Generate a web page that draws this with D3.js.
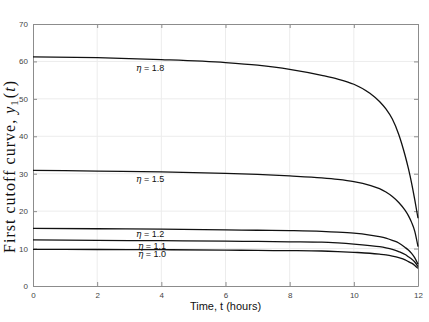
<!DOCTYPE html>
<html><head><meta charset="utf-8">
<script src="https://cdn.jsdelivr.net/npm/d3@7"></script>
<style>
html,body{margin:0;padding:0;background:#fff;}
svg{display:block;}
</style></head>
<body>
<svg id="chart" width="429" height="322"></svg>
<script>
const times = [0, 2, 4, 6, 7, 8, 9, 9.5, 10, 10.5, 10.8, 11, 11.2, 11.4, 11.6, 11.7, 11.8, 11.9, 12];
const eta18 = [61.2, 61.0, 60.5, 59.7, 59.0, 57.9, 56.3, 55.3, 53.9, 51.5, 49.3, 47.3, 44.6, 40.5, 34.8, 31.4, 27.5, 23.0, 18.1];
const eta15 = [30.9, 30.7, 30.5, 30.1, 29.8, 29.4, 28.9, 28.5, 27.9, 26.9, 26.0, 25.1, 23.9, 22.3, 20.2, 18.8, 17.0, 14.6, 10.5];
const eta12 = [15.4, 15.3, 15.2, 15.0, 14.9, 14.8, 14.6, 14.4, 14.1, 13.6, 13.2, 12.8, 12.2, 11.5, 10.3, 9.6, 8.7, 7.5, 5.8];
const eta11 = [12.3, 12.2, 12.1, 12.0, 11.9, 11.8, 11.7, 11.5, 11.2, 10.8, 10.5, 10.2, 9.8, 9.2, 8.4, 7.8, 7.2, 6.4, 5.2];
const eta10 = [9.8, 9.75, 9.7, 9.6, 9.5, 9.45, 9.35, 9.2, 9.0, 8.75, 8.5, 8.3, 8.0, 7.6, 7.0, 6.5, 6.1, 5.5, 4.7];
const seriesNames = ["1.8", "1.5", "1.2", "1.1", "1.0"];
const seriesValues = [eta18, eta15, eta12, eta11, eta10];
const xTicks = [0, 2, 4, 6, 8, 10, 12];
const yTicks = [0, 10, 20, 30, 40, 50, 60, 70];

const svg = d3.select("#chart");
const m = {l: 33, r: 11, t: 24, b: 36};
const W = 429, H = 322;
const x = d3.scaleLinear().domain([0, 12]).range([m.l, W - m.r]);
const y = d3.scaleLinear().domain([0, 70]).range([H - m.b, m.t]);

const labelStart = [3.21, 3.21, 3.21, 3.27, 3.27];
const labelDy = [11, 9.7, 8, 8.3, 7.8];

const axisCol = "#8c8c8c";
const g = svg.append("g");
g.selectAll(".gx").data(xTicks.slice(1, -1)).join("line")
  .attr("x1", d => x(d)).attr("x2", d => x(d)).attr("y1", y(0)).attr("y2", y(70))
  .attr("stroke", "#ececec").attr("stroke-width", 1);
g.selectAll(".gy").data(yTicks.slice(1, -1)).join("line")
  .attr("y1", d => y(d)).attr("y2", d => y(d)).attr("x1", x(0)).attr("x2", x(12))
  .attr("stroke", "#ececec").attr("stroke-width", 1);

const tickLen = 4;
const xb = svg.append("g").attr("transform", `translate(0,${y(0)})`)
  .call(d3.axisBottom(x).tickValues(xTicks).tickSize(-tickLen).tickPadding(6).tickSizeOuter(0));
const xt = svg.append("g").attr("transform", `translate(0,${y(70)})`)
  .call(d3.axisTop(x).tickValues(xTicks).tickSize(-tickLen).tickFormat("").tickSizeOuter(0));
const yl = svg.append("g").attr("transform", `translate(${x(0)},0)`)
  .call(d3.axisLeft(y).tickValues(yTicks).tickSize(-tickLen).tickPadding(5).tickSizeOuter(0));
const yr = svg.append("g").attr("transform", `translate(${x(12)},0)`)
  .call(d3.axisRight(y).tickValues(yTicks).tickSize(-tickLen).tickFormat("").tickSizeOuter(0));
[xb, xt, yl, yr].forEach(a => {
  a.selectAll("path").attr("stroke", axisCol).attr("stroke-width", 1);
  a.selectAll("line").attr("stroke", axisCol);
  a.selectAll("text").attr("fill", "#444").style("font-family", "Liberation Sans, Arial, sans-serif").style("font-size", "8px");
});

const line = d3.line().x((d, i) => x(times[i])).y(d => y(d)).curve(d3.curveMonotoneX);
svg.append("g").selectAll("path").data(seriesValues).join("path")
  .attr("d", d => line(d)).attr("fill", "none").attr("stroke", "#111").attr("stroke-width", 1.3);

const lab = svg.append("g").selectAll("text").data(seriesNames).join("text")
  .attr("x", (d, i) => x(labelStart[i]))
  .attr("y", (d, i) => y(seriesValues[i][2]) + labelDy[i])
  .style("font-family", "Liberation Sans, Arial, sans-serif").style("font-size", "9px").attr("fill", "#111");
lab.append("tspan").text("η").style("font-family", "DejaVu Serif, serif").style("font-style", "italic");
lab.append("tspan").text(d => " = " + d);

svg.append("text").attr("x", (x(0) + x(12)) / 2).attr("y", 310).attr("text-anchor", "middle")
  .style("font-family", "Liberation Sans, Arial, sans-serif").style("font-size", "11px").attr("fill", "#111")
  .text("Time, t (hours)");
const yt = svg.append("text").attr("transform", `translate(15,167) rotate(-90)`)
  .attr("text-anchor", "middle")
  .attr("textLength", 172).attr("lengthAdjust", "spacing")
  .style("font-family", "Liberation Serif, 'Times New Roman', serif").style("font-size", "16px").attr("fill", "#111");
yt.append("tspan").text("First cutoff curve, ");
yt.append("tspan").text("y").style("font-style", "italic");
yt.append("tspan").text("1").attr("dy", 3).style("font-size", "11px");
yt.append("tspan").text("(").attr("dy", -3).attr("dx", 1);
yt.append("tspan").text("t").style("font-style", "italic");
yt.append("tspan").text(")");
</script>
</body></html>
